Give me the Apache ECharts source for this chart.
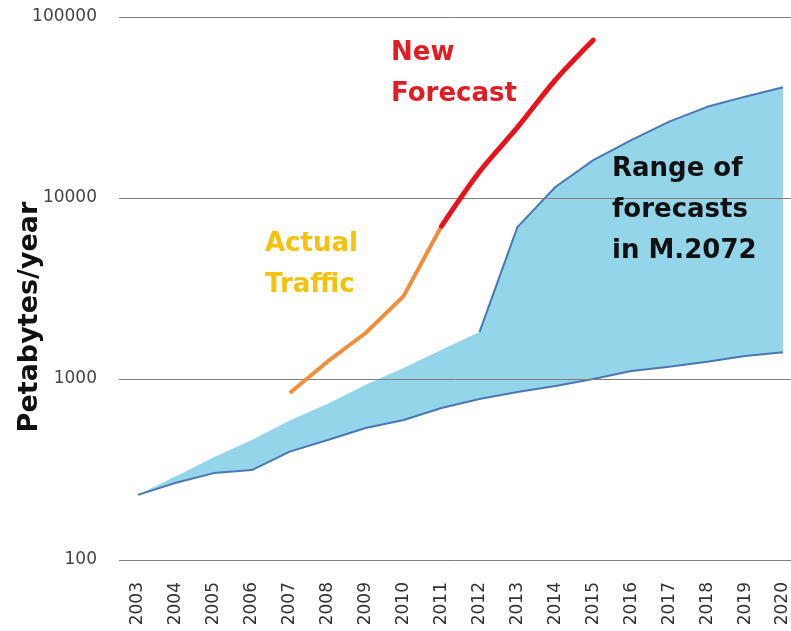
<!DOCTYPE html>
<html>
<head>
<meta charset="utf-8">
<script src="https://cdn.jsdelivr.net/npm/echarts@6/dist/echarts.min.js"></script>
<style>
    html, body { margin: 0; padding: 0; background: #fff; }
    #chart { width: 791px; height: 631px; }
</style>
</head>
<body>
<div id="chart"></div>
<script>
    // years on the x axis
    const years = ['2003', '2004', '2005', '2006', '2007', '2008', '2009', '2010', '2011',
        '2012', '2013', '2014', '2015', '2016', '2017', '2018', '2019', '2020'];
    // range of forecasts in M.2072 (lower / upper edge), petabytes per year
    const rangeLow = [229, 267, 302, 314, 397, 460, 536, 594, 692, 775, 848, 915, 1000, 1107, 1170, 1247, 1340, 1404];
    const rangeHigh = [229, 290, 370, 460, 590, 730, 930, 1150, 1450, 1816, 6900, 11500, 16200, 20900, 26400, 31900, 36300, 40900];
    // actual traffic 2007-2011
    const actualTraffic = [null, null, null, null, 837, 1250, 1795, 2870, 7000, null, null, null, null, null, null, null, null, null];
    // new forecast 2011-2015
    const newForecast = [null, null, null, null, null, null, null, null, 7000, 13970, 24550, 44870, 74600, null, null, null, null, null];
    const yTicks = [100, 1000, 10000, 100000];

    const bandData = rangeHigh.map((v, i) => v - rangeLow[i]);
    const upperEdge = rangeHigh.map((v, i) => (i >= 9 ? v : null));

    const myChart = echarts.init(document.getElementById('chart'));
    const option = {
        animation: false,
        grid: {
            left: 119, right: -11, top: 17, bottom: 71,
            containLabel: false, outerBoundsMode: 'none'
        },
        xAxis: {
            type: 'category',
            data: years,
            boundaryGap: true,
            axisLine: { show: false },
            axisTick: { show: false },
            axisLabel: {
                rotate: 90, interval: 0, margin: 22,
                fontFamily: 'DejaVu Sans', fontSize: 17, color: '#333'
            }
        },
        yAxis: {
            type: 'log',
            logBase: 10,
            min: yTicks[0],
            max: yTicks[yTicks.length - 1],
            z: 3,
            axisLine: { show: false },
            axisTick: { show: false },
            axisLabel: {
                margin: 22, fontFamily: 'DejaVu Sans', fontSize: 17, color: '#444',
                formatter: function (v) { return String(Math.round(v)); }
            },
            splitLine: { show: true, lineStyle: { color: '#808080', width: 1 } }
        },
        series: [
            {
                name: 'low',
                type: 'line',
                stack: 'range',
                data: rangeLow,
                z: 2,
                symbol: 'none',
                lineStyle: { color: '#4a78b4', width: 2 }
            },
            {
                name: 'band',
                type: 'line',
                stack: 'range',
                data: bandData,
                z: 1,
                symbol: 'none',
                lineStyle: { width: 0 },
                areaStyle: { color: '#95d5e9', opacity: 1 }
            },
            {
                name: 'high',
                type: 'line',
                data: upperEdge,
                z: 2,
                symbol: 'none',
                lineStyle: { color: '#4a78b4', width: 2 }
            },
            {
                name: 'Actual Traffic',
                type: 'line',
                data: actualTraffic,
                z: 5,
                symbol: 'none',
                lineStyle: { color: '#f08e3c', width: 4 }
            },
            {
                name: 'New Forecast',
                type: 'line',
                data: newForecast,
                z: 6,
                smooth: 0.3,
                symbol: 'none',
                lineStyle: { color: '#e8121a', width: 5, cap: 'round' }
            }
        ],
        graphic: [
            {
                type: 'text', left: 391, top: 33, z: 10,
                style: {
                    text: 'New\nForecast', fill: '#e31b23',
                    font: 'bold 26px "DejaVu Sans"', lineHeight: 41
                }
            },
            {
                type: 'text', left: 265, top: 224, z: 10,
                style: {
                    text: 'Actual\nTraffic', fill: '#f4c20d',
                    font: 'bold 26px "DejaVu Sans"', lineHeight: 41
                }
            },
            {
                type: 'text', left: 612, top: 149, z: 10,
                style: {
                    text: 'Range of\nforecasts\nin M.2072', fill: '#111',
                    font: 'bold 26px "DejaVu Sans"', lineHeight: 41
                }
            },
            {
                type: 'text', x: 30, y: 317, rotation: Math.PI / 2, z: 10,
                style: {
                    text: 'Petabytes/year', fill: '#111',
                    font: 'bold 27px "DejaVu Sans"',
                    align: 'center', verticalAlign: 'middle'
                }
            }
        ]
    };
    myChart.setOption(option);
</script>
</body>
</html>
